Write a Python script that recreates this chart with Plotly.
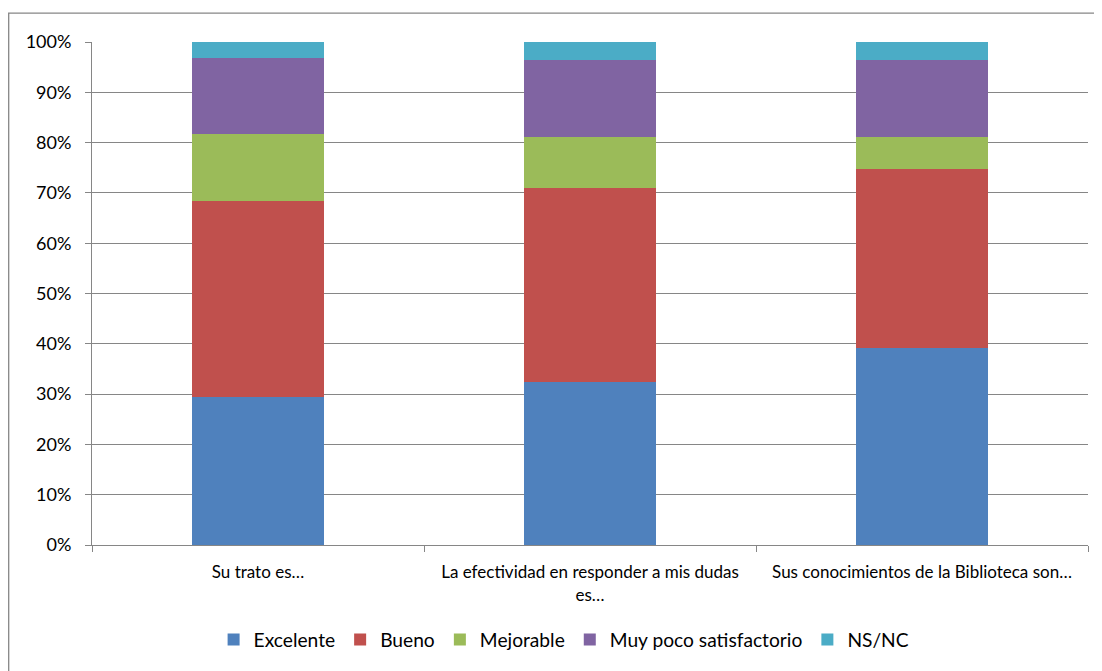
import plotly.graph_objects as go

categories = ["Su trato es…", "La efectividad en responder a mis dudas<br>es…", "Sus conocimientos de la Biblioteca son…"]
excelente = [0.294, 0.324, 0.392]
bueno = [0.390, 0.386, 0.356]
mejorable = [0.134, 0.101, 0.063]
muy_poco = [0.151, 0.154, 0.154]
nsnc = [0.031, 0.035, 0.035]

series = [
    ("Excelente", excelente, "#4F81BD"),
    ("Bueno", bueno, "#C0504D"),
    ("Mejorable", mejorable, "#9BBB59"),
    ("Muy poco satisfactorio", muy_poco, "#8064A2"),
    ("NS/NC", nsnc, "#4BACC6"),
]

# page has an 8px body margin; figure pixel = page pixel - 8
W, H = 1094, 663
L, T = 84, 34
pw, ph = 996, 505
R, B = W - L - pw, H - T - ph

fig = go.Figure()
for name, vals, col in series:
    fig.add_trace(go.Bar(x=categories, y=vals, name=name, marker=dict(color=col, line=dict(width=0)), width=0.4))

font = "Lato, 'Open Sans', sans-serif"
leg_y = -((642 - 8) - (T + ph)) / ph
fig.update_layout(
    width=W, height=H,
    margin=dict(l=L, r=R, t=T, b=B),
    barmode="stack",
    paper_bgcolor="white", plot_bgcolor="white",
    font=dict(family=font, color="black"),
    showlegend=True,
    legend=dict(orientation="h", x=0.474, xanchor="center", y=leg_y, yanchor="middle",
                font=dict(size=19.2), itemwidth=30, traceorder="normal"),
    xaxis=dict(showline=True, linecolor="#868686", linewidth=1, ticks="outside", ticklen=6, tickcolor="#868686",
               tickson="boundaries", showgrid=False, tickfont=dict(size=17), ticklabelstandoff=12),
    yaxis=dict(range=[0, 1], dtick=0.1, tickformat=".0%", showline=True, linecolor="#868686", linewidth=1,
               ticks="outside", ticklen=6, tickcolor="#868686", showgrid=True, gridcolor="#868686", gridwidth=1,
               tickfont=dict(size=18), ticklabelstandoff=10, zeroline=False),
    shapes=[dict(type="rect", xref="paper", yref="paper",
                 x0=(0.7 - L) / pw, x1=(1120 - L) / pw,
                 y0=(T + ph - 5) / ph, y1=(T + ph - 700) / ph,
                 line=dict(color="#868686", width=1.3), layer="below")],
)

fig.write_html("out.html")
